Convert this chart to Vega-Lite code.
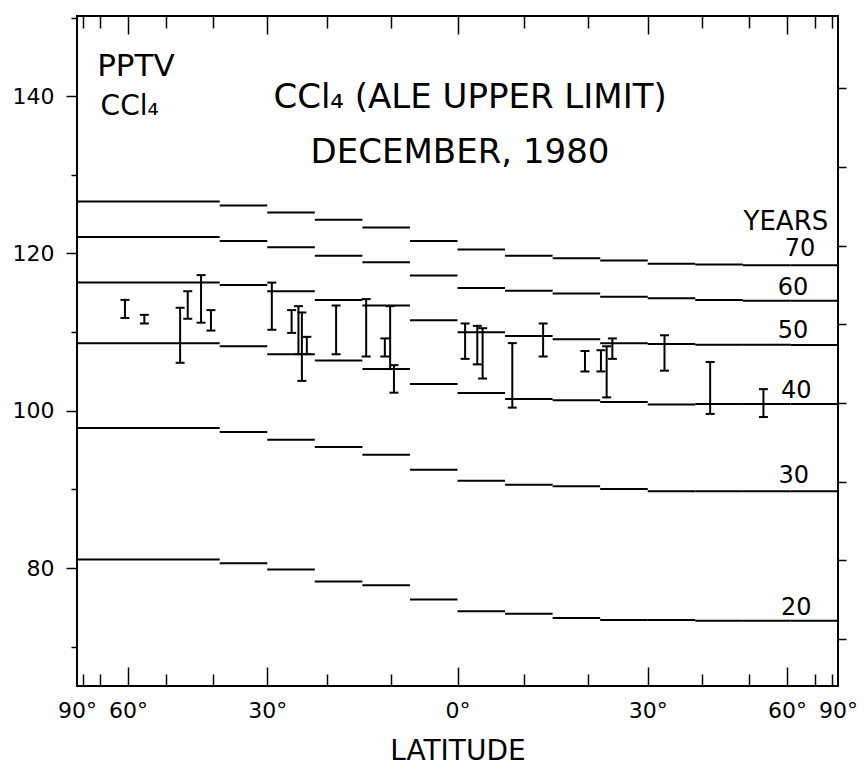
{
  "$schema": "https://vega.github.io/schema/vega-lite/v6.json",
  "width": 761,
  "height": 670,
  "autosize": {"type": "none"},
  "padding": {"left": 77, "top": 16, "right": 29, "bottom": 85},
  "background": "white",
  "config": {
    "view": {"stroke": "black", "strokeWidth": 2},
    "axis": {"grid": false, "domain": false, "tickColor": "black", "tickWidth": 1.5, "labelColor": "black", "labelFont": "DejaVu Sans", "titleFont": "DejaVu Sans", "titleColor": "black", "titleFontWeight": "normal", "labelFlush": false, "labelOverlap": false},
    "text": {"font": "DejaVu Sans", "color": "black"}
  },
  "datasets": {
    "steps": [
      {"years": 70, "x1": -1, "x2": -0.625, "ppt": 126.6}, {"years": 70, "x1": -0.625, "x2": -0.5, "ppt": 126.1}, {"years": 70, "x1": -0.5, "x2": -0.375, "ppt": 125.2}, {"years": 70, "x1": -0.375, "x2": -0.25, "ppt": 124.3}, {"years": 70, "x1": -0.25, "x2": -0.125, "ppt": 123.3}, {"years": 70, "x1": -0.125, "x2": 0, "ppt": 121.6}, {"years": 70, "x1": 0, "x2": 0.125, "ppt": 120.5}, {"years": 70, "x1": 0.125, "x2": 0.25, "ppt": 119.7}, {"years": 70, "x1": 0.25, "x2": 0.375, "ppt": 119.4}, {"years": 70, "x1": 0.375, "x2": 0.5, "ppt": 119.1}, {"years": 70, "x1": 0.5, "x2": 0.625, "ppt": 118.7}, {"years": 70, "x1": 0.625, "x2": 0.75, "ppt": 118.6}, {"years": 70, "x1": 0.75, "x2": 0.875, "ppt": 118.5}, {"years": 70, "x1": 0.875, "x2": 1, "ppt": 118.5},
      {"years": 60, "x1": -1, "x2": -0.625, "ppt": 122.1}, {"years": 60, "x1": -0.625, "x2": -0.5, "ppt": 121.6}, {"years": 60, "x1": -0.5, "x2": -0.375, "ppt": 120.8}, {"years": 60, "x1": -0.375, "x2": -0.25, "ppt": 119.7}, {"years": 60, "x1": -0.25, "x2": -0.125, "ppt": 118.9}, {"years": 60, "x1": -0.125, "x2": 0, "ppt": 117.2}, {"years": 60, "x1": 0, "x2": 0.125, "ppt": 115.6}, {"years": 60, "x1": 0.125, "x2": 0.25, "ppt": 115.25}, {"years": 60, "x1": 0.25, "x2": 0.375, "ppt": 114.9}, {"years": 60, "x1": 0.375, "x2": 0.5, "ppt": 114.5}, {"years": 60, "x1": 0.5, "x2": 0.625, "ppt": 114.3}, {"years": 60, "x1": 0.625, "x2": 0.75, "ppt": 114.1}, {"years": 60, "x1": 0.75, "x2": 0.875, "ppt": 114.0}, {"years": 60, "x1": 0.875, "x2": 1, "ppt": 114.0},
      {"years": 50, "x1": -1, "x2": -0.625, "ppt": 116.3}, {"years": 50, "x1": -0.625, "x2": -0.5, "ppt": 116.0}, {"years": 50, "x1": -0.5, "x2": -0.375, "ppt": 115.2}, {"years": 50, "x1": -0.375, "x2": -0.25, "ppt": 114.1}, {"years": 50, "x1": -0.25, "x2": -0.125, "ppt": 113.4}, {"years": 50, "x1": -0.125, "x2": 0, "ppt": 111.5}, {"years": 50, "x1": 0, "x2": 0.125, "ppt": 110.0}, {"years": 50, "x1": 0.125, "x2": 0.25, "ppt": 109.5}, {"years": 50, "x1": 0.25, "x2": 0.375, "ppt": 109.1}, {"years": 50, "x1": 0.375, "x2": 0.5, "ppt": 108.6}, {"years": 50, "x1": 0.5, "x2": 0.625, "ppt": 108.5}, {"years": 50, "x1": 0.625, "x2": 0.75, "ppt": 108.4}, {"years": 50, "x1": 0.75, "x2": 0.875, "ppt": 108.4}, {"years": 50, "x1": 0.875, "x2": 1, "ppt": 108.35},
      {"years": 40, "x1": -1, "x2": -0.625, "ppt": 108.6}, {"years": 40, "x1": -0.625, "x2": -0.5, "ppt": 108.2}, {"years": 40, "x1": -0.5, "x2": -0.375, "ppt": 107.2}, {"years": 40, "x1": -0.375, "x2": -0.25, "ppt": 106.4}, {"years": 40, "x1": -0.25, "x2": -0.125, "ppt": 105.3}, {"years": 40, "x1": -0.125, "x2": 0, "ppt": 103.4}, {"years": 40, "x1": 0, "x2": 0.125, "ppt": 102.25}, {"years": 40, "x1": 0.125, "x2": 0.25, "ppt": 101.5}, {"years": 40, "x1": 0.25, "x2": 0.375, "ppt": 101.35}, {"years": 40, "x1": 0.375, "x2": 0.5, "ppt": 101.1}, {"years": 40, "x1": 0.5, "x2": 0.625, "ppt": 100.8}, {"years": 40, "x1": 0.625, "x2": 0.75, "ppt": 100.85}, {"years": 40, "x1": 0.75, "x2": 0.875, "ppt": 100.85}, {"years": 40, "x1": 0.875, "x2": 1, "ppt": 100.85},
      {"years": 30, "x1": -1, "x2": -0.625, "ppt": 97.8}, {"years": 30, "x1": -0.625, "x2": -0.5, "ppt": 97.3}, {"years": 30, "x1": -0.5, "x2": -0.375, "ppt": 96.3}, {"years": 30, "x1": -0.375, "x2": -0.25, "ppt": 95.4}, {"years": 30, "x1": -0.25, "x2": -0.125, "ppt": 94.4}, {"years": 30, "x1": -0.125, "x2": 0, "ppt": 92.5}, {"years": 30, "x1": 0, "x2": 0.125, "ppt": 91.1}, {"years": 30, "x1": 0.125, "x2": 0.25, "ppt": 90.6}, {"years": 30, "x1": 0.25, "x2": 0.375, "ppt": 90.4}, {"years": 30, "x1": 0.375, "x2": 0.5, "ppt": 90.05}, {"years": 30, "x1": 0.5, "x2": 0.625, "ppt": 89.75}, {"years": 30, "x1": 0.625, "x2": 0.75, "ppt": 89.75}, {"years": 30, "x1": 0.75, "x2": 0.875, "ppt": 89.75}, {"years": 30, "x1": 0.875, "x2": 1, "ppt": 89.75},
      {"years": 20, "x1": -1, "x2": -0.625, "ppt": 81.1}, {"years": 20, "x1": -0.625, "x2": -0.5, "ppt": 80.6}, {"years": 20, "x1": -0.5, "x2": -0.375, "ppt": 79.8}, {"years": 20, "x1": -0.375, "x2": -0.25, "ppt": 78.3}, {"years": 20, "x1": -0.25, "x2": -0.125, "ppt": 77.8}, {"years": 20, "x1": -0.125, "x2": 0, "ppt": 76.0}, {"years": 20, "x1": 0, "x2": 0.125, "ppt": 74.5}, {"years": 20, "x1": 0.125, "x2": 0.25, "ppt": 74.2}, {"years": 20, "x1": 0.25, "x2": 0.375, "ppt": 73.65}, {"years": 20, "x1": 0.375, "x2": 0.5, "ppt": 73.4}, {"years": 20, "x1": 0.5, "x2": 0.625, "ppt": 73.4}, {"years": 20, "x1": 0.625, "x2": 0.75, "ppt": 73.3}, {"years": 20, "x1": 0.75, "x2": 0.875, "ppt": 73.3}, {"years": 20, "x1": 0.875, "x2": 1, "ppt": 73.3}
    ],
    "obs": [
      {"x": -0.874, "lo": 111.8, "hi": 114.1}, {"x": -0.823, "lo": 111.1, "hi": 112.2}, {"x": -0.729, "lo": 106.1, "hi": 113.1}, {"x": -0.709, "lo": 111.7, "hi": 115.2}, {"x": -0.674, "lo": 111.2, "hi": 117.25}, {"x": -0.648, "lo": 110.2, "hi": 112.8},
      {"x": -0.488, "lo": 110.3, "hi": 116.3}, {"x": -0.436, "lo": 109.9, "hi": 112.8}, {"x": -0.418, "lo": 107.2, "hi": 113.3}, {"x": -0.409, "lo": 103.8, "hi": 112.5}, {"x": -0.396, "lo": 107.2, "hi": 109.4},
      {"x": -0.319, "lo": 107.2, "hi": 113.4}, {"x": -0.240, "lo": 106.9, "hi": 114.2}, {"x": -0.191, "lo": 106.9, "hi": 109.2}, {"x": -0.177, "lo": 105.3, "hi": 113.3}, {"x": -0.167, "lo": 102.3, "hi": 105.8},
      {"x": 0.020, "lo": 106.6, "hi": 111.1}, {"x": 0.052, "lo": 105.9, "hi": 110.8}, {"x": 0.066, "lo": 104.1, "hi": 110.5}, {"x": 0.144, "lo": 100.4, "hi": 108.6}, {"x": 0.225, "lo": 106.9, "hi": 111.1},
      {"x": 0.335, "lo": 105.0, "hi": 107.6}, {"x": 0.377, "lo": 105.0, "hi": 107.7}, {"x": 0.392, "lo": 101.7, "hi": 108.2}, {"x": 0.407, "lo": 106.6, "hi": 109.2}, {"x": 0.544, "lo": 105.1, "hi": 109.6},
      {"x": 0.664, "lo": 99.6, "hi": 106.2}, {"x": 0.804, "lo": 99.2, "hi": 102.75}
    ],
    "pptv": [{"x": -0.947, "y": 142.57, "label": "PPTV"}],
    "gas": [{"x": -0.938, "y": 137.6, "label": "CCl₄"}],
    "titles": [
      {"x": 0.033, "y": 138.5, "label": "CCl₄ (ALE UPPER LIMIT)"},
      {"x": 0.0066, "y": 131.5, "label": "DECEMBER, 1980"}
    ],
    "yearsHead": [{"x": 0.863, "y": 123.0, "label": "YEARS"}],
    "yearsLab": [
      {"x": 0.900, "y": 119.7, "label": "70"},
      {"x": 0.882, "y": 114.7, "label": "60"},
      {"x": 0.882, "y": 109.25, "label": "50"},
      {"x": 0.890, "y": 101.6, "label": "40"},
      {"x": 0.884, "y": 90.8, "label": "30"},
      {"x": 0.890, "y": 74.0, "label": "20"}
    ]
  },
  "resolve": {"axis": {"x": "independent", "y": "independent"}},
  "layer": [
    {
      "data": {"name": "steps"},
      "mark": {"type": "rule", "color": "black", "strokeWidth": 2},
      "encoding": {
        "x": {"field": "x1", "type": "quantitative", "scale": {"domain": [-1, 1], "nice": false, "zero": false},
          "axis": {"orient": "bottom", "values": [-1, -0.86603, -0.5, 0, 0.5, 0.86603, 1], "ticks": false,
            "labelExpr": "abs(datum.value) > 0.99 ? '90°' : abs(datum.value) > 0.8 ? '60°' : abs(datum.value) > 0.3 ? '30°' : '0°'",
            "labelFontSize": 22, "labelPadding": 14, "labelDx": 6, "title": "LATITUDE", "titleFontSize": 28, "titlePadding": 16}},
        "x2": {"field": "x2"},
        "y": {"field": "ppt", "type": "quantitative", "scale": {"domain": [65, 150.2], "nice": false, "zero": false},
          "axis": {"orient": "left", "values": [80, 100, 120, 140], "tickSize": 11, "labelFontSize": 22, "labelPadding": 12, "title": null}},
        "detail": {"field": "years"}
      }
    },
    {
      "data": {"name": "obs"},
      "mark": {"type": "rule", "color": "black", "strokeWidth": 2},
      "encoding": {
        "x": {"field": "x", "type": "quantitative", "scale": {"domain": [-1, 1], "nice": false, "zero": false},
          "axis": {"orient": "bottom", "values": [-0.86603, -0.5, 0, 0.5, 0.86603], "tickSize": -19, "labels": false, "title": null}},
        "y": {"field": "lo", "type": "quantitative", "scale": {"domain": [65, 150.2], "nice": false, "zero": false},
          "axis": {"orient": "left", "values": [70, 90, 110, 130, 150], "tickSize": 6, "labels": false, "title": null}},
        "y2": {"field": "hi"}
      }
    },
    {
      "data": {"name": "obs"},
      "mark": {"type": "tick", "orient": "horizontal", "size": 9, "thickness": 2, "color": "black", "opacity": 1},
      "encoding": {
        "x": {"field": "x", "type": "quantitative", "scale": {"domain": [-1, 1], "nice": false, "zero": false},
          "axis": {"orient": "bottom", "values": [-0.98481, -0.93969, -0.76604, -0.64279, -0.34202, -0.17365, 0.17365, 0.34202, 0.64279, 0.76604, 0.93969, 0.98481], "tickSize": -12, "labels": false, "title": null}},
        "y": {"field": "lo", "type": "quantitative", "scale": {"domain": [65, 150.2], "nice": false, "zero": false},
          "axis": {"orient": "right", "values": [71, 81, 91, 101, 111, 121, 131, 141], "tickSize": 8, "labels": false, "title": null}}
      }
    },
    {
      "data": {"name": "obs"},
      "mark": {"type": "tick", "orient": "horizontal", "size": 9, "thickness": 2, "color": "black", "opacity": 1},
      "encoding": {
        "x": {"field": "x", "type": "quantitative", "scale": {"domain": [-1, 1], "nice": false, "zero": false},
          "axis": {"orient": "top", "values": [-0.86603, -0.5, 0, 0.5, 0.86603], "tickSize": -18, "labels": false, "title": null}},
        "y": {"field": "hi", "type": "quantitative", "scale": {"domain": [65, 150.2], "nice": false, "zero": false}, "axis": null}
      }
    },
    {
      "data": {"name": "pptv"},
      "mark": {"type": "text", "fontSize": 31, "align": "left", "baseline": "alphabetic"},
      "encoding": {
        "x": {"field": "x", "type": "quantitative", "scale": {"domain": [-1, 1], "nice": false, "zero": false},
          "axis": {"orient": "top", "values": [-0.98481, -0.93969, -0.76604, -0.64279, -0.34202, -0.17365, 0.17365, 0.34202, 0.64279, 0.76604, 0.93969, 0.98481], "tickSize": -12, "labels": false, "title": null}},
        "y": {"field": "y", "type": "quantitative", "scale": {"domain": [65, 150.2], "nice": false, "zero": false}, "axis": null},
        "text": {"field": "label"}
      }
    },
    {
      "data": {"name": "gas"},
      "mark": {"type": "text", "fontSize": 28, "align": "left", "baseline": "alphabetic"},
      "encoding": {
        "x": {"field": "x", "type": "quantitative", "scale": {"domain": [-1, 1], "nice": false, "zero": false}, "axis": null},
        "y": {"field": "y", "type": "quantitative", "scale": {"domain": [65, 150.2], "nice": false, "zero": false}, "axis": null},
        "text": {"field": "label"}
      }
    },
    {
      "data": {"name": "titles"},
      "mark": {"type": "text", "fontSize": 34, "align": "center", "baseline": "alphabetic"},
      "encoding": {
        "x": {"field": "x", "type": "quantitative", "scale": {"domain": [-1, 1], "nice": false, "zero": false}, "axis": null},
        "y": {"field": "y", "type": "quantitative", "scale": {"domain": [65, 150.2], "nice": false, "zero": false}, "axis": null},
        "text": {"field": "label"}
      }
    },
    {
      "data": {"name": "yearsHead"},
      "mark": {"type": "text", "fontSize": 26, "align": "center", "baseline": "alphabetic"},
      "encoding": {
        "x": {"field": "x", "type": "quantitative", "scale": {"domain": [-1, 1], "nice": false, "zero": false}, "axis": null},
        "y": {"field": "y", "type": "quantitative", "scale": {"domain": [65, 150.2], "nice": false, "zero": false}, "axis": null},
        "text": {"field": "label"}
      }
    },
    {
      "data": {"name": "yearsLab"},
      "mark": {"type": "text", "fontSize": 24, "align": "center", "baseline": "alphabetic"},
      "encoding": {
        "x": {"field": "x", "type": "quantitative", "scale": {"domain": [-1, 1], "nice": false, "zero": false}, "axis": null},
        "y": {"field": "y", "type": "quantitative", "scale": {"domain": [65, 150.2], "nice": false, "zero": false}, "axis": null},
        "text": {"field": "label"}
      }
    }
  ]
}
